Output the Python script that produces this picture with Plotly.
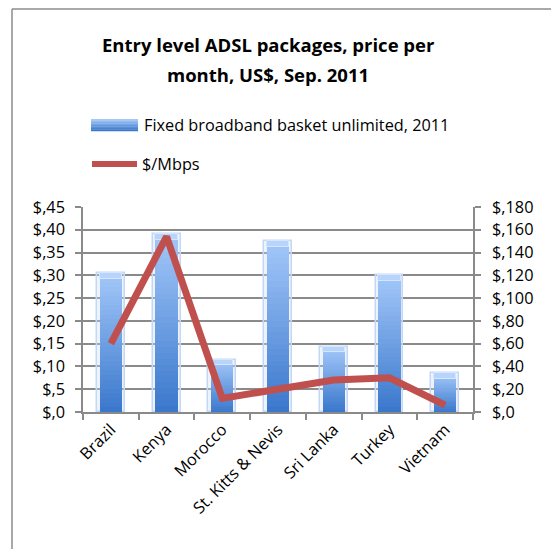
import plotly.graph_objects as go

# Entry level ADSL packages, Sep. 2011
countries = ["Brazil", "Kenya", "Morocco", "St. Kitts & Nevis", "Sri Lanka", "Turkey", "Vietnam"]
basket_price = [30.5, 39.0, 11.5, 37.5, 14.3, 30.0, 8.5]       # left axis
price_per_mbps = [60, 154, 12, 20, 28, 30, 6]                  # right axis

left_ticks = [0, 5, 10, 15, 20, 25, 30, 35, 40, 45]
left_ticktext = ["$," + str(v) for v in left_ticks]
right_ticks = [0, 20, 40, 60, 80, 100, 120, 140, 160, 180]
right_ticktext = ["$," + str(v) for v in right_ticks]

TITLE_LINES = ["Entry level ADSL packages, price per", "month, US$, Sep. 2011"]
BAR_NAME = "Fixed broadband basket unlimited, 2011"
LINE_NAME = "$/Mbps"

FONT = "Open Sans"
FS = 16.3
GRID = "#8a8a8a"
W, H = 551, 549
L, R, T, B = 83, 78, 207, 137


def blend(c1, c2, t):
    a = [int(c1[i:i + 2], 16) for i in (1, 3, 5)]
    b = [int(c2[i:i + 2], 16) for i in (1, 3, 5)]
    return "#" + "".join(f"{round(a[k] + (b[k] - a[k]) * t):02x}" for k in range(3))


DARK, LIGHT = "#3b78cc", "#a2c7f9"
N = 30

fig = go.Figure()

# soft halo around each column
fig.add_trace(go.Bar(
    x=countries, y=basket_price, width=0.5,
    marker=dict(color="rgba(200,220,250,0.35)", line=dict(color="#c3d8f6", width=1.5)),
    hoverinfo="skip", showlegend=False,
))

# vertical gradient: each column built from stacked slices
for k in range(N):
    fig.add_trace(go.Bar(
        x=countries,
        y=[v / N * 1.04 for v in basket_price],
        base=[v * k / N for v in basket_price],
        width=0.4,
        marker=dict(color=blend(DARK, LIGHT, k / (N - 1)), line=dict(width=0)),
        name=BAR_NAME, showlegend=False, hoverinfo="skip",
    ))

# light cap at the top of each column
fig.add_trace(go.Bar(
    x=countries, y=[1.2] * len(countries),
    base=[v - 1.2 for v in basket_price], width=0.4,
    marker=dict(color="#b8d4fb", line=dict(color="#d6e6fc", width=1)),
    hoverinfo="skip", showlegend=False,
))

fig.add_trace(go.Scatter(
    x=countries, y=price_per_mbps, yaxis="y2", mode="lines",
    line=dict(color="#c0504d", width=7),
    name=LINE_NAME, showlegend=False,
))

axis_common = dict(
    showline=True, linecolor=GRID, linewidth=1.5,
    ticks="outside", tickcolor=GRID, ticklen=6, tickwidth=1.5,
    tickfont=dict(family=FONT, size=FS, color="#000"),
    zeroline=False,
)

fig.update_layout(
    width=W, height=H,
    margin=dict(l=L, r=R, t=T, b=B),
    paper_bgcolor="white", plot_bgcolor="white",
    barmode="overlay", bargap=0,
    showlegend=False,
    xaxis=dict(
        **axis_common, tickson="boundaries", tickangle=-45, showgrid=False,
        range=[-0.5, 6.5],
    ),
    yaxis=dict(
        **axis_common, range=[0, 45], tickvals=left_ticks, ticktext=left_ticktext,
        showgrid=True, gridcolor=GRID, gridwidth=1.5, ticklabelstandoff=7,
    ),
    yaxis2=dict(
        **axis_common, overlaying="y", side="right", range=[0, 180],
        tickvals=right_ticks, ticktext=right_ticktext, showgrid=False,
        ticklabelstandoff=8,
    ),
)


def px(xp):
    return (xp - L) / (W - L - R)


def py(yp):
    return (H - B - yp) / (H - T - B)


# chart title, two centred lines
for line_text, y_line in zip(TITLE_LINES, [44, 74]):
    fig.add_annotation(xref="paper", yref="paper", x=px(268), y=py(y_line),
                       xanchor="center", yanchor="middle", showarrow=False,
                       text=line_text,
                       font=dict(family=FONT, size=18.5, color="#000", weight="bold"))

# outer chart frame (top and left edges visible)
fig.add_shape(type="line", xref="paper", yref="paper",
              x0=px(12), x1=px(W + 5), y0=py(9), y1=py(9),
              line=dict(color="#8c8c8c", width=1.5))
fig.add_shape(type="line", xref="paper", yref="paper",
              x0=px(12), x1=px(12), y0=py(9), y1=py(H + 5),
              line=dict(color="#8c8c8c", width=1.5))

# legend: gradient swatch for the columns
SW_X0, SW_X1, SW_Y0, SW_Y1 = 91, 138, 119, 131
steps = 8
for k in range(steps):
    y_top = SW_Y0 + (SW_Y1 - SW_Y0) * k / steps
    y_bot = SW_Y0 + (SW_Y1 - SW_Y0) * (k + 1) / steps + 0.3
    fig.add_shape(type="rect", xref="paper", yref="paper",
                  x0=px(SW_X0), x1=px(SW_X1), y0=py(y_bot), y1=py(y_top),
                  fillcolor=blend(LIGHT, DARK, k / (steps - 1)), line=dict(width=0))
fig.add_annotation(xref="paper", yref="paper", x=px(142), y=py(125),
                   xanchor="left", yanchor="middle", showarrow=False,
                   text=BAR_NAME, font=dict(family=FONT, size=FS, color="#000"))

# legend: line swatch
fig.add_shape(type="line", xref="paper", yref="paper",
              x0=px(92), x1=px(137), y0=py(164), y1=py(164),
              line=dict(color="#c0504d", width=6))
fig.add_annotation(xref="paper", yref="paper", x=px(140), y=py(164),
                   xanchor="left", yanchor="middle", showarrow=False,
                   text=LINE_NAME, font=dict(family=FONT, size=FS, color="#000"))

fig.write_html("out.html")
